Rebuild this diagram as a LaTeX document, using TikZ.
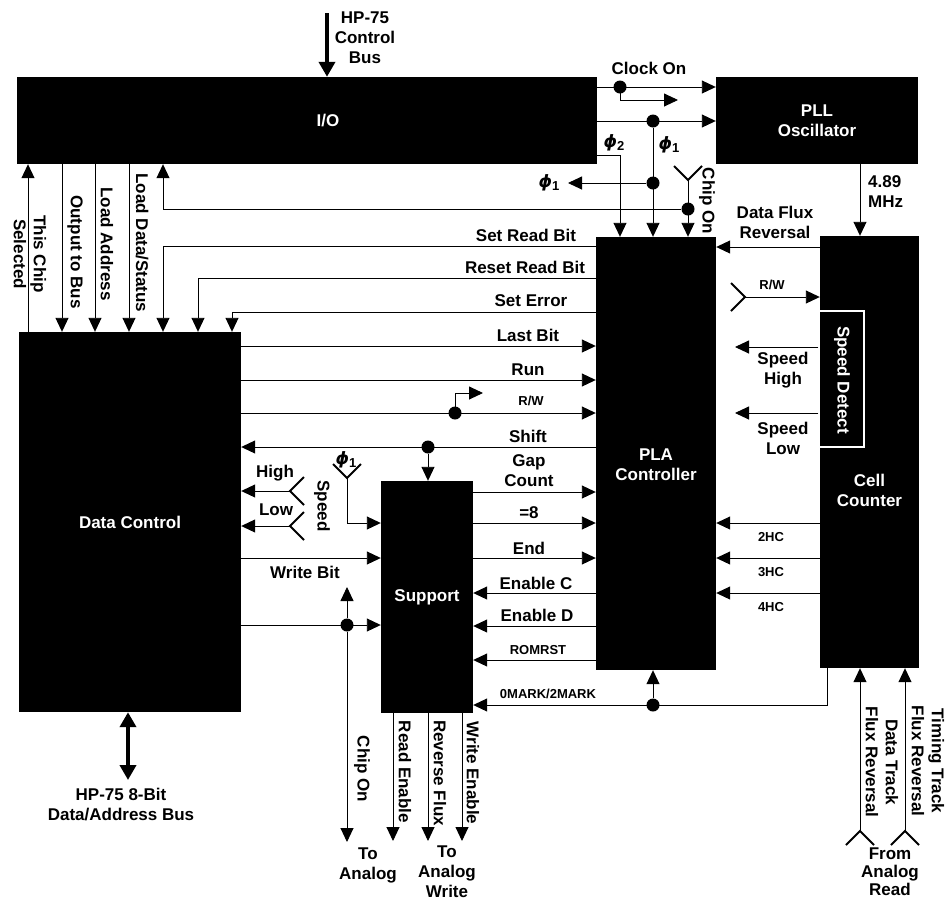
\documentclass[tikz,border=0pt]{standalone}
\usepackage{fontspec}
\setmainfont{Liberation Sans}
\newfontfamily\grkfont{DejaVu Sans}
\usetikzlibrary{arrows.meta}
\newcommand\bigtxt{\fontsize{17}{20}\selectfont\bfseries}
\newcommand\smltxt{\fontsize{13}{15}\selectfont\bfseries}
\newcommand\phisub[1]{{\grkfont\bfseries\itshape ϕ}\raisebox{-3pt}{\smltxt #1}}
\tikzset{
blk/.style={fill=black, inner sep=0pt, text=white, font=\bigtxt, align=center},
sig/.style={line width=0.9pt},
arr/.style={sig, -{Triangle[length=14pt,width=13pt]}},
bus/.style={line width=4pt, -{Triangle[length=15pt,width=16pt]}},
dbus/.style={line width=4pt, {Triangle[length=15pt,width=16pt]}-{Triangle[length=15pt,width=16pt]}},
dot/.style={circle, fill=black, inner sep=0pt, minimum size=13pt},
lbl/.style={font=\bigtxt, align=center, inner sep=0pt},
sml/.style={font=\smltxt, align=center, inner sep=0pt},
vlbl/.style={lbl, rotate=-90},
chev/.pic={
  \draw[line width=2pt] (-14,-14) -- (0,0) -- (14,-14);
  }
}

\begin{document}
\begin{tikzpicture}[x=1pt,y=-1pt]
\useasboundingbox (0,0) rectangle (946,903);
\node[blk, minimum width=580pt, minimum height=87pt,
  label={[text=white,font=\bigtxt,xshift=21pt]center:I/O}] (io) at (307,120.5) {};
\node[blk, minimum width=202pt, minimum height=87pt] (pll) at (817,120.5) {PLL\\Oscillator};
\node[blk, minimum width=120pt, minimum height=433pt,
  label={[text=white,font=\bigtxt,align=center,yshift=-11pt]center:PLA\\Controller}] (pla) at (656,453.5) {};
\node[blk, minimum width=99pt, minimum height=432pt,
  label={[text=white,font=\bigtxt,align=center,yshift=-38pt]center:Cell\\Counter}] (cc) at (869.5,452) {};
\node[blk, draw=white, line width=1.5pt, minimum width=45pt, minimum height=136pt] (sd) at (841.5,379) {};
\node[vlbl, text=white] (sdt) at (842,380) {Speed Detect};
\node[blk, minimum width=222pt, minimum height=380pt] (dc) at (130,522) {Data Control};
\node[blk, minimum width=92pt, minimum height=232pt] (sup) at (427,597) {Support};

\coordinate (cbin) at (327,13);
\coordinate (clk) at (678,100);
\coordinate (phiout) at (568,183);
\coordinate (ychip) at (688,180);
\coordinate (yrw) at (745,297);
\coordinate (shi) at (735,347);
\coordinate (slo) at (735,413);
\coordinate (ydt) at (860,831);
\coordinate (ytt) at (905,831);
\coordinate (rwb) at (483,393);
\coordinate (yhi) at (290,491);
\coordinate (ylo) at (290,526);
\coordinate (yph) at (347,478);
\coordinate (coup) at (347,587);
\coordinate (codn) at (347,842);
\coordinate (rden) at (393,841);
\coordinate (rvfl) at (428,841);
\coordinate (wren) at (462,841);
\coordinate (dabus) at (128,780);

\node[dot] (j1) at (620,87) {};
\node[dot] (j2) at (653,121) {};
\node[dot] (j3) at (653,183) {};
\node[dot] (j4) at (688,209) {};
\node[dot] (j5) at (653,705) {};
\node[dot] (j6) at (455,413) {};
\node[dot] (j7) at (428,447) {};
\node[dot] (j8) at (347,625) {};

% buses
\draw[bus] (cbin) -- (cbin |- io.north);
\node[lbl] (cbt) at (365,38) {HP-75\\Control\\Bus};
\draw[dbus] (dc.south -| dabus) -- (dabus);
\node[lbl] (dbt) at (121,805) {HP-75 8-Bit\\Data/Address Bus};

% I/O to PLL and PLA
\draw[arr] (io.east |- j1) -- (pll.west |- j1);
\draw[arr] (j1.center) |- (clk);
\node[lbl] (clkt) at (649,68) {Clock On};
\draw[arr] (io.east |- j2) -- (pll.west |- j2);
\draw[arr] (j2) -- (j2 |- pla.north);
\draw[arr] (j3) -- (phiout);
\node[lbl] (p1a) at (669,145) {\phisub{1}};
\node[lbl] (p1b) at (549,183) {\phisub{1}};
\draw[arr] (io.east |- 0,155) -| (pla.north -| 620,0);
\node[lbl] (p2) at (614,143) {\phisub{2}};
\pic at (ychip) {chev};
\draw[arr] (ychip) -- (pla.north -| ychip);
\draw[arr] (j4) -| (io.south -| 163,0);
\node[vlbl] (cot) at (707,201) {Chip On};

% PLL and Cell Counter
\draw[arr] (pll.south -| 860,0) -- (cc.north -| 860,0);
\node[lbl, align=left, anchor=west] (mhz) at (868,192) {4.89\\MHz};
\draw[arr] (cc.west |- 0,247) -- (pla.east |- 0,247);
\node[lbl] (dfr) at (775,222) {Data Flux\\Reversal};
\pic[rotate=90] at (yrw) {chev};
\draw[arr] (yrw) -- (cc.west |- yrw);
\node[sml] (rwt) at (772,285) {R/W};
\draw[arr] (sd.west |- shi) -- (shi);
\node[lbl] (sht) at (783,370) {Speed\\High};
\draw[arr] (sd.west |- slo) -- (slo);
\node[lbl] (slt) at (783,438) {Speed\\Low};
\foreach \y/\t in {523/2HC,558/3HC,593/4HC}{
  \draw[arr] (cc.west |- 0,\y) -- (pla.east |- 0,\y);
  \node[sml] at (771,{\y+14}) {\t};
}
\pic[rotate=180] at (ydt) {chev};
\pic[rotate=180] at (ytt) {chev};
\draw[arr] (ydt) -- (cc.south -| ydt);
\draw[arr] (ytt) -- (cc.south -| ytt);
\node[vlbl] (dtt) at (882,762) {Data Track\\Flux Reversal};
\node[vlbl] (ttt) at (928,761) {Timing Track\\Flux Reversal};
\node[lbl, font=\fontsize{17}{18}\selectfont\bfseries] (far) at (890,872) {From\\Analog\\Read};
\draw[arr] (cc.south -| 827,0) |- (sup.east |- j5);
\draw[arr] (j5) -- (j5 |- pla.south);
\node[sml] (mkt) at (548,694) {0MARK/2MARK};

% PLA to Data Control
\draw[arr] (pla.west |- 0,246) -| (dc.north -| 163,0);
\node[lbl] at (526,235) {Set Read Bit};
\draw[arr] (pla.west |- 0,278) -| (dc.north -| 198,0);
\node[lbl] at (525,267) {Reset Read Bit};
\draw[arr] (pla.west |- 0,312) -| (dc.north -| 232,0);
\node[lbl] at (531,301) {Set Error};

% I/O and Data Control
\draw[arr] (dc.north -| 28,0) -- (io.south -| 28,0);
\foreach \x in {62,95,129}
  \draw[arr] (io.south -| \x,0) -- (dc.north -| \x,0);
\node[vlbl] at (30,254) {This Chip\\Selected};
\node[vlbl] at (75,252) {Output to Bus};
\node[vlbl] at (107,244) {Load Address};
\node[vlbl] at (142,243) {Load Data/Status};

% Data Control to PLA
\draw[arr] (dc.east |- 0,346) -- (pla.west |- 0,346);
\node[lbl] at (528,335) {Last Bit};
\draw[arr] (dc.east |- 0,380) -- (pla.west |- 0,380);
\node[lbl] at (528,370) {Run};
\draw[arr] (dc.east |- j6) -- (pla.west |- j6);
\draw[arr] (j6.center) |- (rwb);
\node[sml] at (531,401) {R/W};
\draw[arr] (pla.west |- j7) -- (dc.east |- j7);
\draw[arr] (j7) -- (j7 |- sup.north);
\node[lbl] at (528,436) {Shift};

% Support and PLA
\draw[arr] (sup.east |- 0,492) -- (pla.west |- 0,492);
\node[lbl] at (529,471) {Gap\\Count};
\draw[arr] (sup.east |- 0,523) -- (pla.west |- 0,523);
\node[lbl] at (529,513) {=8};
\draw[arr] (sup.east |- 0,558) -- (pla.west |- 0,558);
\node[lbl] at (529,548) {End};
\draw[arr] (pla.west |- 0,593) -- (sup.east |- 0,593);
\node[lbl] at (536,583) {Enable C};
\draw[arr] (pla.west |- 0,626) -- (sup.east |- 0,626);
\node[lbl] at (537,615) {Enable D};
\draw[arr] (pla.west |- 0,660) -- (sup.east |- 0,660);
\node[sml] at (538,650) {ROMRST};

% Data Control and Support
\pic[rotate=-90] at (yhi) {chev};
\pic[rotate=-90] at (ylo) {chev};
\draw[arr] (yhi) -- (dc.east |- yhi);
\draw[arr] (ylo) -- (dc.east |- ylo);
\node[lbl] at (275,473) {High};
\node[lbl] at (276,510) {Low};
\node[vlbl] at (322,506) {Speed};
\pic at (yph) {chev};
\draw[arr] (yph) |- (sup.west |- 0,523);
\node[lbl] at (346,460) {\phisub{1}};
\draw[arr] (dc.east |- 0,558) -- (sup.west |- 0,558);
\node[lbl] at (305,572) {Write Bit};
\draw[arr] (dc.east |- j8) -- (sup.west |- j8);
\draw[arr] (j8) -- (coup);
\draw[arr] (j8) -- (codn);
\node[vlbl] at (362,769) {Chip On};

% Support outputs
\draw[arr] (sup.south -| rden) -- (rden);
\draw[arr] (sup.south -| rvfl) -- (rvfl);
\draw[arr] (sup.south -| wren) -- (wren);
\node[vlbl] at (405,772) {Read Enable};
\node[vlbl] at (440,773) {Reverse Flux};
\node[vlbl] at (473,773) {Write Enable};
\node[lbl] at (368,865) {To\\Analog};
\node[lbl] at (447,872) {To\\Analog\\Write};
\end{tikzpicture}
\end{document}
